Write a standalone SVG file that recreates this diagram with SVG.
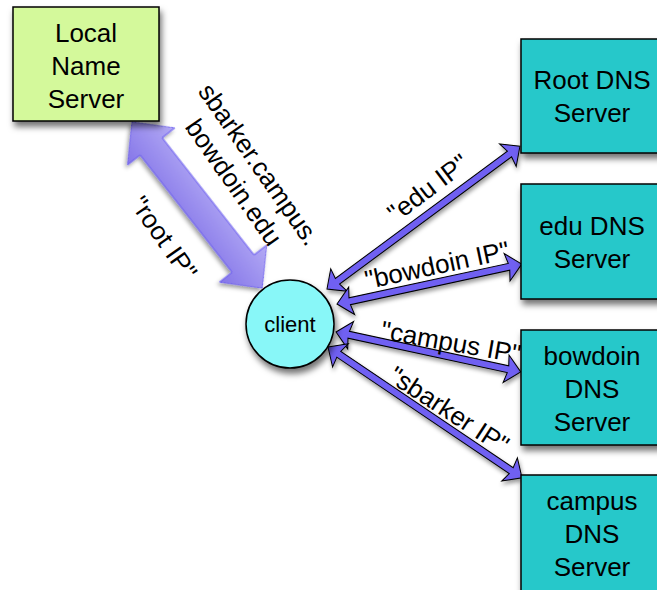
<svg xmlns="http://www.w3.org/2000/svg" width="657" height="590" viewBox="0 0 657 590">
<defs>
<filter id="sh" x="-20%" y="-20%" width="140%" height="150%">
<feDropShadow dx="2" dy="5" stdDeviation="3" flood-color="#000" flood-opacity="0.55"/>
</filter>
<filter id="shs" x="-20%" y="-50%" width="140%" height="200%">
<feDropShadow dx="1" dy="3" stdDeviation="2" flood-color="#000" flood-opacity="0.4"/>
</filter>
<linearGradient id="bigg" x1="0" y1="0" x2="0" y2="1">
<stop offset="0" stop-color="#b3aaf5"/>
<stop offset="1" stop-color="#8475e8"/>
</linearGradient>
<style>
.t{font-family:"Liberation Sans",Arial,Helvetica,sans-serif;font-size:26px;fill:#000;text-anchor:middle}
.box{stroke:#000;stroke-width:1.5}
.srv{fill:#27c8ca}
.arr{fill:#6f61f2;stroke:#000;stroke-width:1;stroke-linejoin:miter}
</style>
</defs>
<rect width="657" height="590" fill="#fff"/>

<g id="connectors">
<g id="big-arrow" transform="translate(132,122) rotate(51.9)">
<path d="M0,0 L31,-30 L31,-14 L180,-14 L180,-30 L211,0 L180,30 L180,14 L31,14 L31,30 Z" fill="url(#bigg)" stroke="#6a5cf0" stroke-width="1" filter="url(#shs)"/>
</g>
<g filter="url(#shs)">
<path class="arr" transform="translate(327,289) rotate(-36.5)" d="M0,0 L15,-14 L13,-3.5 L227,-3.5 L225,-14 L240,0 L225,14 L227,3.5 L13,3.5 L15,14 Z"/>
<path class="arr" transform="translate(337,304) rotate(-12.2)" d="M0,0 L15,-14 L13,-3.5 L176,-3.5 L174,-14 L189,0 L174,14 L176,3.5 L13,3.5 L15,14 Z"/>
<path class="arr" transform="translate(336,332) rotate(12.2)" d="M0,0 L15,-14 L13,-3.5 L176,-3.5 L174,-14 L189,0 L174,14 L176,3.5 L13,3.5 L15,14 Z"/>
<path class="arr" transform="translate(328,347) rotate(34)" d="M0,0 L15,-14 L13,-3.5 L221,-3.5 L219,-14 L234,0 L219,14 L221,3.5 L13,3.5 L15,14 Z"/>
</g>
<text class="t" transform="translate(247,173) rotate(55)"><tspan x="0" y="-6">sbarker.campus.</tspan><tspan x="0" y="25">bowdoin.edu</tspan></text>
<text class="t" transform="translate(164,238) rotate(55)" y="9">"root IP"</text>
<text class="t" transform="translate(428,188) rotate(-37)" y="9">"edu IP"</text>
<text class="t" transform="translate(437,265) rotate(-12)" y="9">"bowdoin IP"</text>
<text class="t" transform="translate(451,342) rotate(10)" y="9">"campus IP"</text>
<text class="t" transform="translate(449,410) rotate(33)" y="9">"sbarker IP"</text>
</g>

<g id="local-name-server">
<rect class="box" x="13" y="7" width="146" height="114" fill="#d4f99b" filter="url(#sh)"/>
<text class="t" x="86" y="42">Local</text>
<text class="t" x="86" y="75">Name</text>
<text class="t" x="86" y="108">Server</text>
</g>

<g id="client">
<circle cx="290" cy="324" r="44" fill="#88f7f8" stroke="#000" stroke-width="1.5" filter="url(#sh)"/>
<text class="t" x="290" y="332" style="font-size:22px">client</text>
</g>

<g id="root-dns">
<rect class="box srv" x="521" y="39" width="142" height="114" filter="url(#sh)"/>
<text class="t" x="592" y="89">Root DNS</text>
<text class="t" x="592" y="122">Server</text>
</g>

<g id="edu-dns">
<rect class="box srv" x="521" y="184" width="142" height="115" filter="url(#sh)"/>
<text class="t" x="592" y="235">edu DNS</text>
<text class="t" x="592" y="268">Server</text>
</g>

<g id="bowdoin-dns">
<rect class="box srv" x="521" y="330" width="142" height="115" filter="url(#sh)"/>
<text class="t" x="592" y="365">bowdoin</text>
<text class="t" x="592" y="398">DNS</text>
<text class="t" x="592" y="431">Server</text>
</g>

<g id="campus-dns">
<rect class="box srv" x="521" y="475" width="142" height="125" filter="url(#sh)"/>
<text class="t" x="592" y="510">campus</text>
<text class="t" x="592" y="543">DNS</text>
<text class="t" x="592" y="576">Server</text>
</g>
</svg>
